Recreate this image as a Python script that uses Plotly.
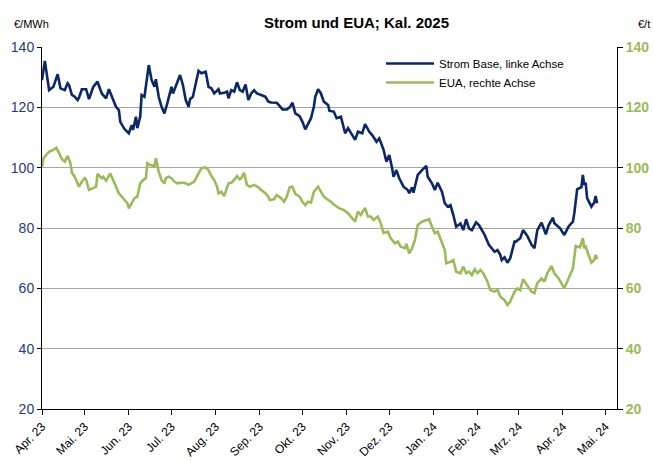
import plotly.graph_objects as go

# ---------------- data ----------------
strom_dates = [
    "2023-04-01", "2023-04-03", "2023-04-06", "2023-04-09", "2023-04-12", "2023-04-14", "2023-04-17",
    "2023-04-19", "2023-04-20", "2023-04-22", "2023-04-24", "2023-04-26", "2023-04-27", "2023-04-29",
    "2023-05-02", "2023-05-04", "2023-05-07", "2023-05-10", "2023-05-13", "2023-05-16", "2023-05-18",
    "2023-05-20", "2023-05-23", "2023-05-25", "2023-05-26", "2023-05-29", "2023-05-31", "2023-06-01",
    "2023-06-03", "2023-06-04", "2023-06-06", "2023-06-07", "2023-06-09", "2023-06-10", "2023-06-12",
    "2023-06-15", "2023-06-17", "2023-06-19", "2023-06-20", "2023-06-22", "2023-06-24", "2023-06-26",
    "2023-06-28", "2023-06-29", "2023-07-01", "2023-07-02", "2023-07-05", "2023-07-07", "2023-07-09",
    "2023-07-11", "2023-07-13", "2023-07-14", "2023-07-16", "2023-07-19", "2023-07-20", "2023-07-22",
    "2023-07-25", "2023-07-27", "2023-07-29", "2023-07-31", "2023-08-03", "2023-08-04", "2023-08-07",
    "2023-08-09", "2023-08-10", "2023-08-12", "2023-08-14", "2023-08-16", "2023-08-18", "2023-08-20",
    "2023-08-22", "2023-08-24", "2023-08-26", "2023-08-28", "2023-08-30", "2023-09-02", "2023-09-05",
    "2023-09-07", "2023-09-09", "2023-09-13", "2023-09-15", "2023-09-17", "2023-09-20", "2023-09-22",
    "2023-09-24", "2023-09-26", "2023-09-29", "2023-10-01", "2023-10-03", "2023-10-05", "2023-10-07",
    "2023-10-09", "2023-10-10", "2023-10-12", "2023-10-14", "2023-10-16", "2023-10-19", "2023-10-20",
    "2023-10-23", "2023-10-25", "2023-10-28", "2023-10-31", "2023-11-02", "2023-11-05", "2023-11-07",
    "2023-11-09", "2023-11-12", "2023-11-14", "2023-11-17", "2023-11-19", "2023-11-22", "2023-11-24",
    "2023-11-27", "2023-11-29", "2023-12-01", "2023-12-03", "2023-12-04", "2023-12-06", "2023-12-08",
    "2023-12-11", "2023-12-14", "2023-12-15", "2023-12-17", "2023-12-18", "2023-12-21", "2023-12-24",
    "2023-12-27", "2023-12-28", "2023-12-31", "2024-01-02", "2024-01-04", "2024-01-07", "2024-01-09",
    "2024-01-11", "2024-01-13", "2024-01-15", "2024-01-17", "2024-01-20", "2024-01-22", "2024-01-24",
    "2024-01-26", "2024-01-28", "2024-01-31", "2024-02-02", "2024-02-04", "2024-02-06", "2024-02-09",
    "2024-02-11", "2024-02-13", "2024-02-15", "2024-02-17", "2024-02-18", "2024-02-20", "2024-02-22",
    "2024-02-24", "2024-02-27", "2024-02-28", "2024-03-02", "2024-03-04", "2024-03-07", "2024-03-10",
    "2024-03-12", "2024-03-14", "2024-03-17", "2024-03-19", "2024-03-20", "2024-03-22", "2024-03-25",
    "2024-03-26", "2024-03-30", "2024-04-02", "2024-04-05", "2024-04-08", "2024-04-09", "2024-04-11",
    "2024-04-14", "2024-04-15", "2024-04-16", "2024-04-17", "2024-04-18", "2024-04-21", "2024-04-23",
    "2024-04-24", "2024-04-25",
]
strom_values = [
    129.0, 135.4, 125.7, 126.8, 131.0, 126.3, 125.7,
    128.0, 127.4, 124.1, 123.5, 122.4, 123.2, 126.0,
    126.0, 122.7, 126.8, 128.5, 124.6, 123.0, 126.0,
    123.5, 120.2, 119.1, 115.2, 112.8, 111.9, 111.4,
    114.1, 112.5, 116.9, 113.1, 116.9, 124.1, 123.5,
    134.0, 129.1, 126.8, 129.3, 123.5, 120.2, 118.0,
    121.3, 123.0, 126.8, 124.6, 128.5, 130.7, 127.4,
    122.4, 120.2, 122.7, 123.5, 129.6, 132.1, 131.3,
    131.8, 126.8, 126.3, 124.6, 126.0, 124.6, 124.8,
    125.2, 123.0, 125.7, 125.2, 128.3, 125.7, 125.2,
    127.6, 122.4, 124.6, 125.7, 124.6, 124.1, 123.5,
    121.9, 121.6, 121.5, 120.4, 119.3, 119.3, 120.0,
    121.5, 118.0, 117.1, 115.2, 112.7, 114.5, 116.4,
    120.2, 123.5, 126.0, 124.6, 121.9, 120.8, 118.8,
    118.6, 116.4, 116.9, 111.4, 113.1, 110.8, 109.2,
    111.9, 111.4, 114.4, 111.9, 110.8, 108.6, 109.7,
    105.9, 102.0, 104.2, 99.8, 97.0, 99.2, 96.5,
    93.7, 92.6, 91.5, 93.5, 91.7, 97.6, 99.2,
    100.6, 97.0, 94.8, 92.6, 95.0, 92.0, 88.2,
    87.1, 87.6, 84.3, 80.4, 81.5, 79.3, 82.9,
    79.9, 79.3, 81.9, 81.0, 79.3, 77.7, 74.4,
    73.3, 72.1, 72.7, 71.1, 69.4, 70.3, 68.5,
    70.0, 75.5, 75.5, 76.6, 79.3, 77.4, 74.4,
    73.3, 79.3, 81.8, 79.3, 77.9, 81.0, 83.4,
    81.6, 79.9, 77.7, 80.5, 82.1, 84.9, 92.8,
    93.5, 97.6, 94.3, 95.0, 89.9, 87.1, 88.5,
    90.6, 88.2,
]

eua_dates = [
    "2023-04-01", "2023-04-02", "2023-04-04", "2023-04-06", "2023-04-09", "2023-04-11", "2023-04-13",
    "2023-04-15", "2023-04-17", "2023-04-19", "2023-04-21", "2023-04-22", "2023-04-24", "2023-04-26",
    "2023-04-27", "2023-04-29", "2023-05-01", "2023-05-02", "2023-05-04", "2023-05-07", "2023-05-09",
    "2023-05-10", "2023-05-13", "2023-05-14", "2023-05-16", "2023-05-19", "2023-05-20", "2023-05-22",
    "2023-05-25", "2023-05-27", "2023-05-29", "2023-05-31", "2023-06-01", "2023-06-03", "2023-06-05",
    "2023-06-07", "2023-06-09", "2023-06-11", "2023-06-13", "2023-06-14", "2023-06-16", "2023-06-19",
    "2023-06-20", "2023-06-22", "2023-06-24", "2023-06-26", "2023-06-27", "2023-06-29", "2023-07-01",
    "2023-07-03", "2023-07-05", "2023-07-08", "2023-07-10", "2023-07-13", "2023-07-15", "2023-07-17",
    "2023-07-20", "2023-07-22", "2023-07-25", "2023-07-27", "2023-07-29", "2023-07-31", "2023-08-02",
    "2023-08-03", "2023-08-05", "2023-08-07", "2023-08-08", "2023-08-10", "2023-08-12", "2023-08-14",
    "2023-08-16", "2023-08-18", "2023-08-19", "2023-08-21", "2023-08-23", "2023-08-25", "2023-08-28",
    "2023-08-31", "2023-09-02", "2023-09-05", "2023-09-07", "2023-09-08", "2023-09-11", "2023-09-13",
    "2023-09-16", "2023-09-18", "2023-09-20", "2023-09-22", "2023-09-24", "2023-09-26", "2023-09-29",
    "2023-10-01", "2023-10-03", "2023-10-05", "2023-10-07", "2023-10-09", "2023-10-12", "2023-10-14",
    "2023-10-16", "2023-10-19", "2023-10-21", "2023-10-23", "2023-10-27", "2023-10-30", "2023-11-02",
    "2023-11-04", "2023-11-07", "2023-11-09", "2023-11-11", "2023-11-14", "2023-11-16", "2023-11-18",
    "2023-11-20", "2023-11-23", "2023-11-25", "2023-11-27", "2023-11-30", "2023-12-02", "2023-12-05",
    "2023-12-07", "2023-12-09", "2023-12-12", "2023-12-13", "2023-12-15", "2023-12-17", "2023-12-19",
    "2023-12-21", "2023-12-24", "2023-12-27", "2023-12-29", "2023-12-31", "2024-01-02", "2024-01-04",
    "2024-01-06", "2024-01-09", "2024-01-10", "2024-01-13", "2024-01-15", "2024-01-17", "2024-01-20",
    "2024-01-22", "2024-01-24", "2024-01-26", "2024-01-28", "2024-01-30", "2024-02-01", "2024-02-03",
    "2024-02-05", "2024-02-08", "2024-02-10", "2024-02-13", "2024-02-15", "2024-02-17", "2024-02-20",
    "2024-02-22", "2024-02-24", "2024-02-27", "2024-02-29", "2024-03-02", "2024-03-04", "2024-03-07",
    "2024-03-10", "2024-03-12", "2024-03-14", "2024-03-17", "2024-03-19", "2024-03-21", "2024-03-24",
    "2024-03-26", "2024-03-29", "2024-04-02", "2024-04-04", "2024-04-07", "2024-04-08", "2024-04-10",
    "2024-04-13", "2024-04-15", "2024-04-16", "2024-04-17", "2024-04-19", "2024-04-21", "2024-04-23",
    "2024-04-24", "2024-04-25",
]
eua_values = [
    100.3, 103.1, 104.2, 105.3, 105.9, 106.6, 104.8,
    102.8, 102.0, 103.9, 101.4, 98.3, 97.0, 94.8,
    93.7, 95.4, 96.5, 96.0, 92.6, 93.2, 93.7,
    97.9, 96.5, 97.0, 95.7, 98.1, 97.0, 94.8,
    91.5, 90.4, 89.3, 88.2, 86.5, 88.2, 89.9,
    90.4, 94.8, 95.9, 96.5, 101.5, 100.9, 100.6,
    103.1, 98.7, 95.9, 94.8, 96.5, 97.0, 96.5,
    95.4, 94.8, 95.0, 95.0, 94.3, 94.8, 95.4,
    98.1, 99.8, 100.1, 99.2, 97.2, 95.9, 93.7,
    91.5, 92.0, 90.6, 92.0, 94.8, 95.0, 95.9,
    97.2, 96.1, 96.5, 98.3, 94.3, 93.7, 94.3,
    93.5, 92.6, 91.5, 90.4, 89.3, 89.5, 90.9,
    89.9, 88.7, 90.4, 93.5, 93.7, 91.3, 90.4,
    88.7, 87.6, 88.7, 88.4, 92.0, 93.7, 92.0,
    90.4, 89.3, 88.7, 87.8, 86.5, 86.0, 84.9,
    83.8, 82.1, 85.4, 84.3, 86.7, 83.8, 83.8,
    82.7, 83.8, 81.6, 78.3, 78.8, 76.6, 74.9,
    75.5, 73.8, 73.3, 74.7, 71.6, 73.3, 76.0,
    81.0, 82.1, 82.7, 82.9, 80.4, 78.3, 78.8,
    76.6, 72.7, 68.3, 68.8, 69.4, 65.5, 65.0,
    67.2, 65.0, 65.5, 64.4, 66.3, 65.0, 66.1,
    65.0, 62.2, 59.4, 58.9, 59.6, 57.2, 56.1,
    54.5, 55.6, 58.9, 60.0, 59.4, 63.0, 61.1,
    58.9, 58.4, 61.7, 63.3, 62.2, 65.0, 67.4,
    65.0, 63.3, 60.0, 62.2, 65.5, 66.6, 74.0,
    73.6, 76.6, 73.3, 73.8, 71.1, 68.5, 69.4,
    71.1, 69.6,
]

month_ticks = ["2023-04-01", "2023-05-01", "2023-06-01", "2023-07-01", "2023-08-01", "2023-09-01",
               "2023-10-01", "2023-11-01", "2023-12-01", "2024-01-01", "2024-02-01", "2024-03-01",
               "2024-04-01", "2024-05-01"]
month_labels = ["Apr. 23", "Mai. 23", "Jun. 23", "Jul. 23", "Aug. 23", "Sep. 23", "Okt. 23",
                "Nov. 23", "Dez. 23", "Jan. 24", "Feb. 24", "Mrz. 24", "Apr. 24", "Mai. 24"]
y_ticks = [20, 40, 60, 80, 100, 120, 140]

# ---------------- figure ----------------
NAVY = "#0B2768"
GREEN = "#9BBB59"
FONT = "Arial, Liberation Sans, sans-serif"

L, R, T, B = 42, 36, 47, 53
PW, PH = 653 - L - R, 462 - T - B

fig = go.Figure()
fig.add_trace(go.Scatter(x=strom_dates, y=strom_values, mode="lines",
                         name="Strom Base, linke Achse",
                         line=dict(color=NAVY, width=2.6)))
fig.add_trace(go.Scatter(x=eua_dates, y=eua_values, mode="lines",
                         name="EUA, rechte Achse", yaxis="y2",
                         line=dict(color=GREEN, width=2.6)))

fig.update_layout(
    width=653, height=462,
    margin=dict(l=L, r=R, t=T, b=B, autoexpand=False),
    paper_bgcolor="white", plot_bgcolor="white",
    font=dict(family=FONT, size=12, color="#000000"),
    showlegend=True,
    legend=dict(x=(381 - L) / PW, y=1 - (49 - T) / PH, xanchor="left", yanchor="top",
                bgcolor="rgba(255,255,255,0)", font=dict(size=11.5, color="#000000"),
                itemwidth=48, tracegroupgap=0),
    xaxis=dict(
        type="date",
        range=["2023-04-01", "2024-05-09"],
        tickmode="array", tickvals=month_ticks, ticktext=month_labels,
        tickangle=-45, tickfont=dict(size=12, color="#000000"),
        showgrid=False, showline=True, linecolor="#000000", linewidth=1,
        ticks="outside", ticklen=5, tickcolor="#000000",
        zeroline=False, fixedrange=True, automargin=False,
    ),
    yaxis=dict(
        range=[20, 140], tickmode="array", tickvals=y_ticks,
        tickfont=dict(size=14, color="#1F3B7A"),
        showgrid=True, gridcolor="#A6A6A6", gridwidth=1,
        showline=True, linecolor="#000000", linewidth=1,
        ticks="outside", ticklen=4, tickcolor="#000000",
        zeroline=False, automargin=False,
    ),
    yaxis2=dict(
        range=[20, 140], tickmode="array", tickvals=y_ticks,
        overlaying="y", side="right",
        tickfont=dict(size=14, color=GREEN, weight="bold"),
        showgrid=False, showline=True, linecolor="#000000", linewidth=1,
        ticks="outside", ticklen=5, tickcolor="#000000",
        zeroline=False, automargin=False,
    ),
    annotations=[
        dict(text="<b>Strom und EUA; Kal. 2025</b>", xref="paper", yref="paper",
             x=(357 - L) / PW, y=1 + (T - 23) / PH, xanchor="center", yanchor="middle",
             showarrow=False, font=dict(size=15, color="#000000")),
        dict(text="€/MWh", xref="paper", yref="paper",
             x=-(L - 12) / PW, y=1 + (T - 24) / PH, xanchor="left", yanchor="middle",
             showarrow=False, font=dict(size=11, color="#000000")),
        dict(text="€/t", xref="paper", yref="paper",
             x=1 + (652 - (653 - R)) / PW, y=1 + (T - 24) / PH, xanchor="right", yanchor="middle",
             showarrow=False, font=dict(size=11, color="#000000")),
    ],
)

fig.write_html(
    "out.html",
    config={"displayModeBar": False, "staticPlot": True},
    post_script="document.body.style.margin='0';document.body.style.padding='0';",
)
